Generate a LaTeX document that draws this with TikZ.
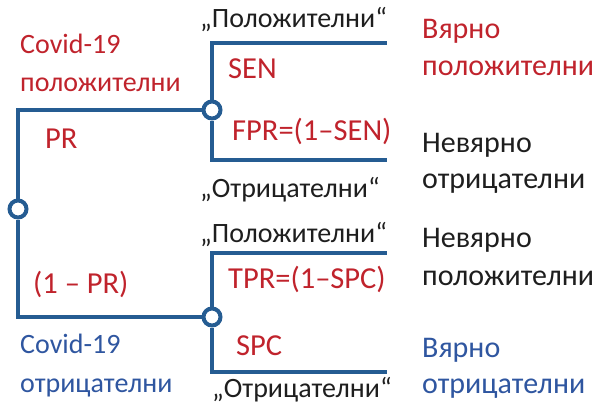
\documentclass[tikz,border=0pt]{standalone}
\usepackage{fontspec}
\setmainfont{Carlito}
\definecolor{lineblue}{HTML}{255C92}
\definecolor{txtred}{HTML}{C0232C}
\definecolor{txtblue}{HTML}{2F56A0}
\definecolor{txtblack}{HTML}{1E1E1E}
\begin{document}
\begin{tikzpicture}[x=1pt,y=-1pt,
  conn/.style={draw=lineblue,line width=4pt},
  dot/.style={circle,draw=lineblue,line width=4pt,fill=white,minimum size=17pt,inner sep=0pt},
  lbl/.style={anchor=base west,inner sep=0pt,font=\fontsize{28}{33}\selectfont},
  brl/.style={anchor=base west,inner sep=0pt,font=\fontsize{30.5}{36}\selectfont},
  big/.style={anchor=base west,inner sep=0pt,font=\fontsize{30}{35}\selectfont},
  red/.style={text=txtred},
  blu/.style={text=txtblue},
  blk/.style={text=txtblack}]
\useasboundingbox (0,0) rectangle (599,407);
% coordinates
\coordinate (tl) at (18,110);
\coordinate (bl) at (18,317);
\coordinate (u1) at (213,43);
\coordinate (u2) at (213,160);
\coordinate (u1e) at (387,43);
\coordinate (u2e) at (387,160);
\coordinate (l1) at (213,253);
\coordinate (l2) at (213,372);
\coordinate (l1e) at (387,253);
\coordinate (l2e) at (387,372);
% circles
\node[dot] (root) at (18,209) {};
\node[dot] (c1) at (212,110) {};
\node[dot] (c2) at (212,317) {};
% connectors
\draw[conn] (root.north) -- (tl) -- (c1.west);
\draw[conn] (root.south) -- (bl) -- (c2.west);
\draw[conn] (c1.north) -- (c1.north |- u1) -- (u1e);
\draw[conn] (c1.south) -- (c1.south |- u2) -- (u2e);
\draw[conn] (c2.north) -- (c2.north |- l1) -- (l1e);
\draw[conn] (c2.south) -- (c2.south |- l2) -- (l2e);
% left labels
\node[lbl,red] (cp1) at (20,53) {Covid-19};
\node[lbl,red] (cp2) at (20,91) {положителни};
\node[brl,red] (pr) at (45,148) {PR};
\node[brl,red] (npr) at (33,293) {(1 – PR)};
\node[lbl,blu] (cn1) at (20,353) {Covid-19};
\node[lbl,blu] (cn2) at (20,392) {отрицателни};
% upper branch
\node[lbl,blk] (q1) at (200,27) {„Положителни“};
\node[brl,red] (sen) at (228,78) {SEN};
\node[brl,red] (fpr) at (232,140) {FPR=(1–SEN)};
\node[lbl,blk] (q2) at (200,197) {„Отрицателни“};
% lower branch
\node[lbl,blk] (q3) at (200,242) {„Положителни“};
\node[brl,red] (tpr) at (228,288) {TPR=(1–SPC)};
\node[brl,red] (spc) at (236,355) {SPC};
\node[lbl,blk] (q4) at (212,397) {„Отрицателни“};
% right column
\node[big,red] (r1) at (422,38) {Вярно};
\node[big,red] (r2) at (422,75) {положителни};
\node[big,blk] (r3) at (422,152) {Невярно};
\node[big,blk] (r4) at (422,188) {отрицателни};
\node[big,blk] (r5) at (422,247) {Невярно};
\node[big,blk] (r6) at (422,285) {положителни};
\node[big,blu] (r7) at (422,357) {Вярно};
\node[big,blu] (r8) at (422,393) {отрицателни};
\end{tikzpicture}
\end{document}
